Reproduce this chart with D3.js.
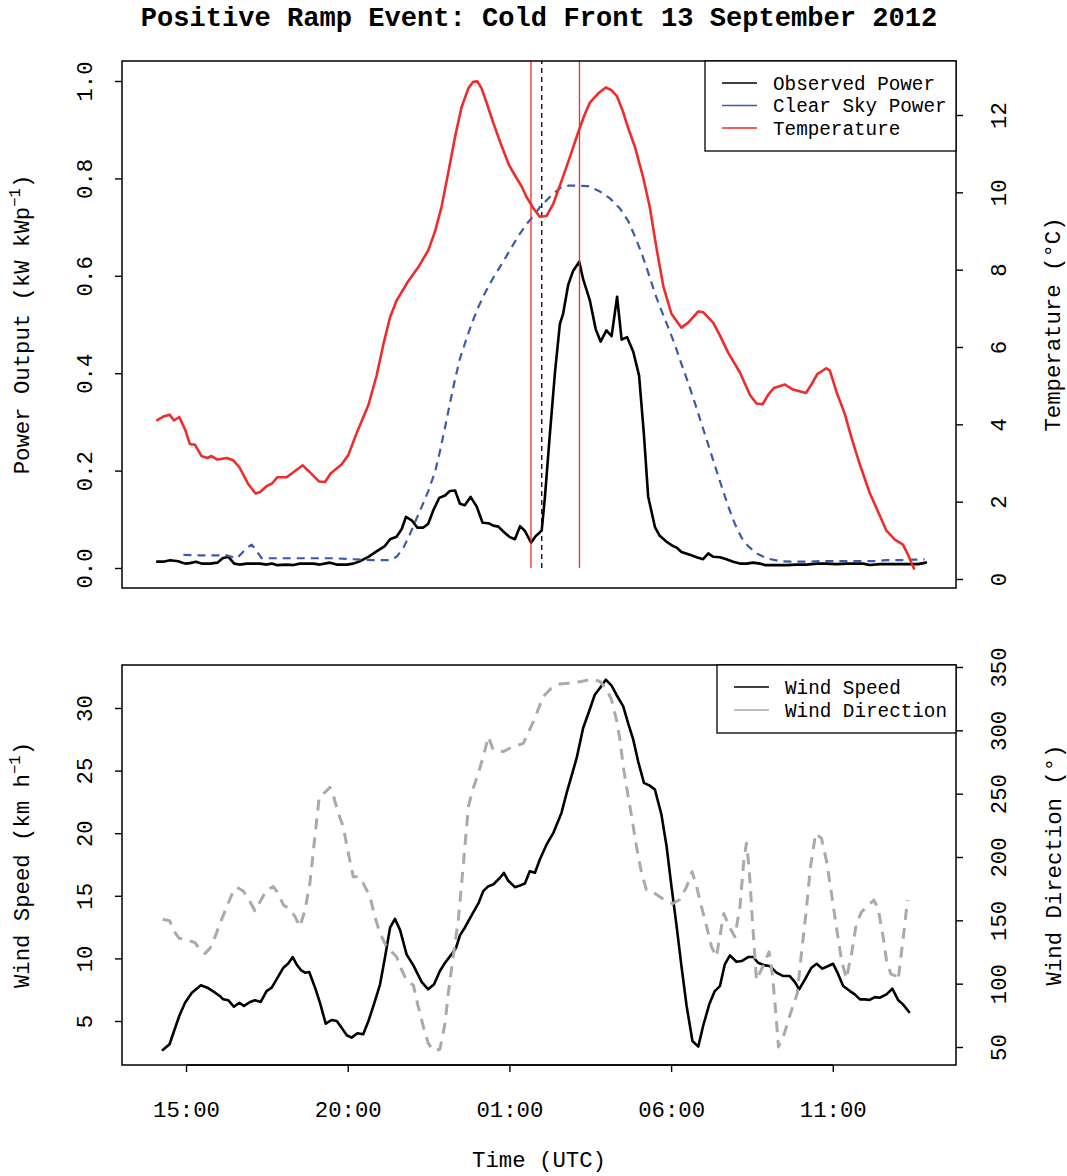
<!DOCTYPE html>
<html>
<head>
<meta charset="utf-8">
<script src="https://cdn.jsdelivr.net/npm/d3@7"></script>
<style>
  html, body { margin: 0; padding: 0; background: #ffffff; }
  svg { display: block; }
  text { font-family: "Liberation Mono", "Courier New", monospace; fill: #000; }
</style>
</head>
<body>
<script>
// ---------------- DATA (time in hours from 00:00 UTC, 12 Sep 2012) ----------------
const chartTitle = "Positive Ramp Event: Cold Front 13 September 2012";

const obsTime = [14.11,14.30,14.51,14.76,14.97,15.12,15.31,15.48,15.74,15.97,
  16.13,16.31,16.49,16.65,16.88,17.29,17.49,17.65,17.80,18.11,
  18.32,18.52,18.94,19.14,19.45,19.66,19.97,20.17,20.38,20.64,
  20.89,21.15,21.31,21.51,21.67,21.80,21.98,22.15,22.34,22.49,
  22.65,22.83,23.01,23.16,23.32,23.47,23.62,23.80,23.99,24.17,
  24.35,24.50,24.66,24.81,25.00,25.17,25.33,25.48,25.67,25.82,
  25.94,26.00,26.10,26.25,26.41,26.56,26.66,26.82,26.97,27.16,
  27.28,27.49,27.67,27.82,28.00,28.16,28.33,28.47,28.64,28.83,
  29.01,29.16,29.29,29.50,29.65,29.86,30.06,30.17,30.32,30.58,
  30.79,30.99,31.15,31.30,31.51,31.71,31.92,32.13,32.33,32.54,
  32.74,32.90,33.16,33.57,33.88,34.19,34.50,34.80,35.11,35.42,
  35.73,35.94,36.14,36.45,36.76,37.07,37.38,37.64,37.88];
const obsPower = [0.013,0.013,0.016,0.014,0.009,0.010,0.013,0.009,0.009,0.011,
  0.020,0.023,0.009,0.007,0.009,0.009,0.007,0.009,0.006,0.007,
  0.006,0.009,0.009,0.007,0.011,0.007,0.007,0.009,0.014,0.023,
  0.034,0.045,0.059,0.064,0.080,0.105,0.098,0.083,0.083,0.091,
  0.119,0.144,0.149,0.158,0.159,0.132,0.129,0.146,0.126,0.093,
  0.092,0.087,0.085,0.075,0.064,0.059,0.086,0.076,0.052,0.066,
  0.073,0.078,0.147,0.274,0.402,0.501,0.522,0.582,0.610,0.629,
  0.593,0.549,0.490,0.465,0.488,0.476,0.557,0.469,0.474,0.444,
  0.395,0.274,0.147,0.084,0.066,0.054,0.045,0.042,0.033,0.027,
  0.022,0.018,0.030,0.023,0.022,0.018,0.013,0.009,0.009,0.011,
  0.009,0.006,0.006,0.006,0.007,0.007,0.009,0.009,0.008,0.009,
  0.009,0.009,0.006,0.008,0.008,0.008,0.008,0.008,0.011];

const clearTime = [14.92,15.43,15.95,16.26,16.57,16.88,17.03,17.19,17.34,17.91,
  18.73,19.56,20.17,20.79,21.31,21.51,21.72,21.92,22.08,22.29,
  22.49,22.70,22.85,23.01,23.16,23.32,23.47,23.68,23.83,24.04,
  24.24,24.50,24.76,25.02,25.27,25.53,25.79,25.94,26.25,26.56,
  26.82,27.13,27.44,27.80,28.11,28.42,28.67,28.88,29.09,29.29,
  29.50,29.70,29.91,30.12,30.32,30.53,30.74,30.94,31.15,31.35,
  31.56,31.77,31.97,32.18,32.38,32.64,32.95,33.36,33.77,34.19,
  34.60,35.01,35.42,35.84,36.25,36.66,37.07,37.48,37.84];
const clearPower = [0.027,0.026,0.026,0.026,0.020,0.041,0.048,0.034,0.020,0.020,
  0.020,0.020,0.018,0.016,0.016,0.023,0.041,0.069,0.094,0.126,
  0.158,0.197,0.239,0.289,0.338,0.388,0.430,0.472,0.501,0.536,
  0.564,0.596,0.624,0.653,0.681,0.706,0.727,0.741,0.762,0.780,
  0.785,0.785,0.784,0.773,0.759,0.738,0.713,0.681,0.646,0.607,
  0.564,0.529,0.494,0.458,0.419,0.380,0.338,0.296,0.253,0.211,
  0.168,0.126,0.091,0.062,0.045,0.030,0.020,0.014,0.013,0.013,
  0.014,0.014,0.014,0.014,0.014,0.016,0.016,0.017,0.018];

const tempTime = [14.11,14.30,14.49,14.63,14.79,14.97,15.12,15.28,15.48,15.66,
  15.79,15.97,16.26,16.46,16.65,16.93,17.15,17.29,17.49,17.66,
  17.82,18.11,18.32,18.61,18.88,19.12,19.30,19.47,19.81,20.02,
  20.28,20.64,20.89,21.10,21.31,21.51,21.87,22.18,22.49,22.70,
  22.90,23.11,23.32,23.52,23.73,23.88,24.01,24.14,24.29,24.50,
  24.71,24.99,25.22,25.38,25.53,25.74,25.94,26.15,26.36,26.61,
  26.87,27.13,27.33,27.49,27.75,27.98,28.16,28.33,28.52,28.67,
  28.88,29.14,29.34,29.55,29.76,30.01,30.32,30.53,30.84,30.99,
  31.30,31.51,31.76,32.13,32.44,32.64,32.83,33.00,33.18,33.52,
  33.77,34.17,34.34,34.52,34.80,34.91,35.11,35.37,35.58,35.83,
  36.14,36.40,36.66,36.92,37.17,37.33,37.51];
const tempC = [4.11,4.20,4.25,4.10,4.19,3.87,3.49,3.47,3.18,3.13,
  3.18,3.09,3.13,3.07,2.89,2.45,2.21,2.25,2.40,2.47,
  2.63,2.63,2.76,2.94,2.72,2.52,2.51,2.73,2.96,3.21,
  3.78,4.50,5.25,6.06,6.77,7.20,7.70,8.06,8.50,8.99,
  9.62,10.51,11.44,12.20,12.69,12.86,12.87,12.69,12.33,11.80,
  11.31,10.70,10.37,10.15,9.88,9.59,9.37,9.39,9.71,10.29,
  10.91,11.56,12.02,12.32,12.56,12.71,12.64,12.48,12.07,11.67,
  11.18,10.37,9.62,8.55,7.57,6.86,6.50,6.63,6.92,6.90,
  6.63,6.30,5.86,5.34,4.76,4.54,4.52,4.76,4.94,5.03,
  4.90,4.81,5.03,5.30,5.45,5.39,4.85,4.27,3.65,2.98,
  2.23,1.74,1.25,1.02,0.89,0.62,0.27];

const windTime = [14.28,14.49,14.63,14.79,14.97,15.18,15.46,15.66,15.90,16.05,
  16.15,16.31,16.48,16.65,16.79,16.98,17.13,17.31,17.49,17.65,
  17.80,18.01,18.16,18.30,18.42,18.55,18.68,18.81,18.99,19.14,
  19.32,19.50,19.66,19.81,19.97,20.12,20.30,20.48,20.64,20.81,
  21.00,21.15,21.31,21.46,21.62,21.82,22.03,22.29,22.49,22.67,
  22.85,23.01,23.21,23.35,23.47,23.62,23.83,24.04,24.19,24.35,
  24.50,24.71,24.83,24.96,25.17,25.33,25.48,25.63,25.79,25.94,
  26.15,26.36,26.61,26.77,26.92,27.08,27.28,27.49,27.64,27.80,
  27.98,28.16,28.31,28.52,28.67,28.83,28.98,29.16,29.34,29.50,
  29.70,29.86,30.01,30.17,30.32,30.48,30.66,30.84,30.99,31.18,
  31.35,31.51,31.66,31.82,32.02,32.18,32.38,32.54,32.69,32.90,
  33.05,33.26,33.47,33.67,33.83,33.96,34.14,34.34,34.50,34.68,
  34.86,35.01,35.17,35.32,35.53,35.68,35.84,35.99,36.14,36.30,
  36.45,36.66,36.84,37.02,37.17,37.36];
const windSpeed = [2.69,3.14,4.20,5.40,6.46,7.26,7.85,7.66,7.26,6.99,
  6.73,6.65,6.14,6.46,6.20,6.52,6.65,6.52,7.39,7.66,
  8.32,9.26,9.60,10.11,9.52,9.07,8.86,8.91,7.66,6.46,
  4.79,5.08,5.00,4.47,3.86,3.67,4.02,3.94,5.00,6.33,
  7.93,10.05,12.45,13.16,12.26,10.32,9.44,8.11,7.53,7.93,
  8.99,9.65,10.32,10.85,11.84,12.45,13.43,14.39,15.37,15.77,
  15.90,16.44,16.84,16.22,15.69,15.82,15.98,16.97,16.84,17.90,
  19.10,20.03,21.62,23.22,24.55,26.01,28.40,29.92,31.06,31.60,
  32.26,31.78,31.06,30.13,28.80,27.47,25.74,24.02,23.80,23.48,
  21.49,18.96,15.77,12.58,9.39,6.20,3.40,2.95,4.60,6.33,
  7.39,7.79,9.52,10.24,9.73,9.79,10.11,10.11,9.65,9.44,
  9.39,8.86,8.59,8.59,8.11,7.53,8.32,9.26,9.57,9.18,
  9.39,9.57,8.72,7.79,7.39,7.13,6.73,6.73,6.68,6.91,
  6.86,7.13,7.58,6.68,6.33,5.72];

const dirTime = [14.28,14.49,14.66,14.79,14.97,15.28,15.43,15.59,15.74,15.90,
  16.05,16.24,16.41,16.57,16.77,16.98,17.13,17.29,17.49,17.70,
  17.85,18.01,18.22,18.37,18.52,18.68,18.83,18.94,19.04,19.12,
  19.30,19.45,19.55,19.71,19.86,20.02,20.17,20.33,20.48,20.69,
  20.84,21.00,21.20,21.51,21.67,21.84,22.03,22.18,22.34,22.49,
  22.65,22.85,23.01,23.11,23.26,23.42,23.57,23.73,23.88,24.04,
  24.19,24.35,24.50,24.81,25.07,25.43,25.74,26.05,26.30,26.56,
  26.87,27.23,27.54,27.80,28.01,28.16,28.31,28.42,28.52,28.62,
  28.78,28.93,29.09,29.24,29.45,29.65,29.86,30.06,30.27,30.48,
  30.65,30.79,30.94,31.10,31.25,31.40,31.63,31.80,31.97,32.13,
  32.25,32.33,32.41,32.52,32.64,32.83,33.03,33.14,33.24,33.32,
  33.50,33.69,33.90,34.03,34.17,34.31,34.47,34.65,34.80,34.96,
  35.11,35.27,35.42,35.58,35.73,35.89,36.09,36.27,36.40,36.54,
  36.66,36.79,36.92,37.02,37.12,37.23,37.31];
const windDir = [150.8,149.7,140.3,135.8,135.0,132.4,126.6,123.9,127.9,137.1,
  147.6,159.5,170.0,176.1,173.2,164.7,157.6,164.7,173.9,176.6,
  171.3,162.1,158.7,152.9,145.0,158.2,179.2,205.5,229.2,247.6,
  251.1,255.0,248.9,234.5,223.9,202.9,184.5,184.5,179.2,168.7,
  152.9,139.7,129.2,121.3,110.8,101.6,98.9,81.8,66.1,52.9,
  47.1,48.2,68.7,92.4,121.3,150.3,192.4,239.7,254.2,266.1,
  279.2,295.0,284.5,283.2,286.6,289.7,306.8,326.8,333.3,336.5,
  337.3,338.6,340.5,338.6,332.0,324.1,308.3,292.5,271.4,255.6,
  231.9,208.1,187.1,173.9,172.0,168.6,164.7,163.3,166.5,176.5,
  188.4,176.5,160.7,144.9,129.1,121.2,155.4,144.9,137.0,160.7,
  197.6,210.8,192.3,147.5,102.7,113.3,125.1,105.4,76.4,50.0,
  60.5,76.4,92.2,123.8,155.4,192.3,218.7,214.7,197.6,171.2,
  144.9,118.5,104.0,123.8,147.5,156.7,161.5,166.0,159.4,139.6,
  118.5,107.8,106.4,102.7,123.8,147.5,166.0];

// event markers (hours)
const eventLines = [25.667, 27.167];   // red verticals
const rampStart = [26.0];              // black dashed vertical

// ticks
const xTickValues = [15, 20, 25, 30, 35];
const xTickLabels = ["15:00", "20:00", "01:00", "06:00", "11:00"];
const powerTicks = [0, 0.2, 0.4, 0.6, 0.8, 1.0];
const tempTicks = [0, 2, 4, 6, 8, 10, 12];
const speedTicks = [5, 10, 15, 20, 25, 30];
const dirTicks = [50, 100, 150, 200, 250, 300, 350];

const legendTop = ["Observed Power", "Clear Sky Power", "Temperature"];
const legendBottom = ["Wind Speed", "Wind Direction"];

// ---------------- STYLE / LAYOUT ----------------
const W = 1067, H = 1176;
const L = 122, R = 956;
const topP = {y0: 61, y1: 588};
const botP = {y0: 665, y1: 1065};
const RED = "#ee2c2c", BLUE = "#3a5ba8", GREY = "#aaaaaa";
const AX_FONT = 22.3;

const svg = d3.select("body").append("svg").attr("width", W).attr("height", H);

const x = d3.scaleLinear().domain([13.02, 38.81]).range([L, R]);
const yPow = d3.scaleLinear().domain([0, 1]).range([568, 81]);
const yTemp = d3.scaleLinear().domain([0, 12]).range([579, 115]);
const ySpd = d3.scaleLinear().domain([5, 30]).range([1021, 708]);
const yDir = d3.scaleLinear().domain([50, 350]).range([1047, 667]);

const pairs = (ts, vs) => ts.map((t, i) => [t, vs[i]]).filter(d => d[1] != null);

function drawLine(data, ys, color, width, dash) {
  const g = svg.append("path")
    .datum(data)
    .attr("fill", "none")
    .attr("stroke", color)
    .attr("stroke-width", width)
    .attr("stroke-linejoin", "round")
    .attr("stroke-linecap", dash ? "butt" : "round")
    .attr("d", d3.line().x(d => x(d[0])).y(d => ys(d[1])));
  if (dash) g.attr("stroke-dasharray", dash);
  return g;
}

// Title
svg.append("text").attr("x", 539).attr("y", 26)
  .attr("text-anchor", "middle").attr("font-weight", "bold")
  .attr("font-size", 27.1).text(chartTitle);

// ---------- Top panel ----------
drawLine(pairs(obsTime, obsPower), yPow, "#000", 2.6);
drawLine(pairs(clearTime, clearPower), yPow, BLUE, 2.2, "8,6");

eventLines.forEach(t => {
  svg.append("line").attr("x1", x(t)).attr("x2", x(t))
    .attr("y1", yPow(0)).attr("y2", topP.y0)
    .attr("stroke", RED).attr("stroke-width", 1.3);
});
rampStart.forEach(t => {
  svg.append("line").attr("x1", x(t)).attr("x2", x(t))
    .attr("y1", yPow(0)).attr("y2", topP.y0)
    .attr("stroke", "#000").attr("stroke-width", 1.3).attr("stroke-dasharray", "5,4");
});

drawLine(pairs(tempTime, tempC), yTemp, RED, 2.6);

function styleRotLabels(g, shift) {
  g.select(".domain").remove();
  g.selectAll(".tick line").attr("stroke", "#000").attr("stroke-width", 1.4);
  g.selectAll(".tick text")
    .attr("x", 0).attr("y", 0).attr("dy", 0)
    .attr("text-anchor", "middle")
    .attr("transform", `translate(${shift},0) rotate(-90)`)
    .attr("font-size", AX_FONT)
    .attr("font-family", "Liberation Mono, Courier New, monospace")
    .attr("fill", "#000");
}

const fmt1 = d3.format(".1f");
svg.append("g").attr("transform", `translate(${L},0)`)
  .call(d3.axisLeft(yPow).tickValues(powerTicks).tickFormat(fmt1).tickSize(7))
  .call(g => styleRotLabels(g, -30));
svg.append("g").attr("transform", `translate(${R},0)`)
  .call(d3.axisRight(yTemp).tickValues(tempTicks).tickFormat(d3.format("d")).tickSize(7))
  .call(g => styleRotLabels(g, 50));

svg.append("rect").attr("x", L).attr("y", topP.y0).attr("width", R - L)
  .attr("height", topP.y1 - topP.y0).attr("fill", "none")
  .attr("stroke", "#000").attr("stroke-width", 1.5);

// y titles
function yTitle(xb, yc, parts) {
  const t = svg.append("text")
    .attr("transform", `translate(${xb},${yc}) rotate(-90)`)
    .attr("text-anchor", "middle").attr("font-size", AX_FONT);
  parts.forEach(p => {
    const ts = t.append("tspan").text(p.text);
    if (p.sup) ts.attr("font-size", AX_FONT * 0.7).attr("dy", -9);
    if (p.after) ts.attr("dy", 9);
  });
}
yTitle(29, (topP.y0 + topP.y1) / 2,
  [{text: "Power Output (kW kWp"}, {text: "\u22121", sup: true}, {text: ")", after: true}]);
yTitle(1060, (topP.y0 + topP.y1) / 2, [{text: "Temperature (\u00B0C)"}]);

// legends
function legend(x0, y0, x1, rowY, labels, colors) {
  svg.append("rect").attr("x", x0).attr("y", y0).attr("width", x1 - x0)
    .attr("height", rowY[rowY.length - 1] - y0 + 23)
    .attr("fill", "#fff").attr("stroke", "#000").attr("stroke-width", 1.3);
  labels.forEach((lab, i) => {
    svg.append("line").attr("x1", x0 + 17).attr("x2", x0 + 52)
      .attr("y1", rowY[i]).attr("y2", rowY[i])
      .attr("stroke", colors[i]).attr("stroke-width", 1.5);
    svg.append("text").attr("x", x0 + 68).attr("y", rowY[i])
      .attr("dy", "0.35em").attr("font-size", 19.3).text(lab);
  });
}
legend(705, topP.y0, R, [83, 105.5, 128], legendTop, ["#000", BLUE, RED]);

// ---------- Bottom panel ----------
drawLine(pairs(windTime, windSpeed), ySpd, "#000", 2.6);
drawLine(pairs(dirTime, windDir), yDir, GREY, 3, "11,8");

svg.append("g").attr("transform", `translate(${L},0)`)
  .call(d3.axisLeft(ySpd).tickValues(speedTicks).tickFormat(d3.format("d")).tickSize(7))
  .call(g => styleRotLabels(g, -30));
svg.append("g").attr("transform", `translate(${R},0)`)
  .call(d3.axisRight(yDir).tickValues(dirTicks).tickFormat(d3.format("d")).tickSize(7))
  .call(g => styleRotLabels(g, 50));

const xa = svg.append("g").attr("transform", `translate(0,${botP.y1})`)
  .call(d3.axisBottom(x).tickValues(xTickValues)
    .tickFormat((d, i) => xTickLabels[i]).tickSize(7));
xa.select(".domain").attr("d", `M${x(xTickValues[0])},0H${x(xTickValues[xTickValues.length - 1])}`)
  .attr("stroke", "#000").attr("stroke-width", 1.4);
xa.selectAll(".tick line").attr("stroke", "#000").attr("stroke-width", 1.4);
xa.selectAll(".tick text").attr("y", 52).attr("dy", 0)
  .attr("font-size", AX_FONT).attr("font-family", "Liberation Mono, Courier New, monospace")
  .attr("fill", "#000");

svg.append("rect").attr("x", L).attr("y", botP.y0).attr("width", R - L)
  .attr("height", botP.y1 - botP.y0).attr("fill", "none")
  .attr("stroke", "#000").attr("stroke-width", 1.5);

yTitle(29, (botP.y0 + botP.y1) / 2,
  [{text: "Wind Speed (km h"}, {text: "\u22121", sup: true}, {text: ")", after: true}]);
yTitle(1061, (botP.y0 + botP.y1) / 2, [{text: "Wind Direction (\u00B0)"}]);

legend(717, botP.y0, R, [687, 710], legendBottom, ["#000", GREY]);

svg.append("text").attr("x", 539).attr("y", 1167)
  .attr("text-anchor", "middle").attr("font-size", AX_FONT).text("Time (UTC)");
</script>
</body>
</html>
